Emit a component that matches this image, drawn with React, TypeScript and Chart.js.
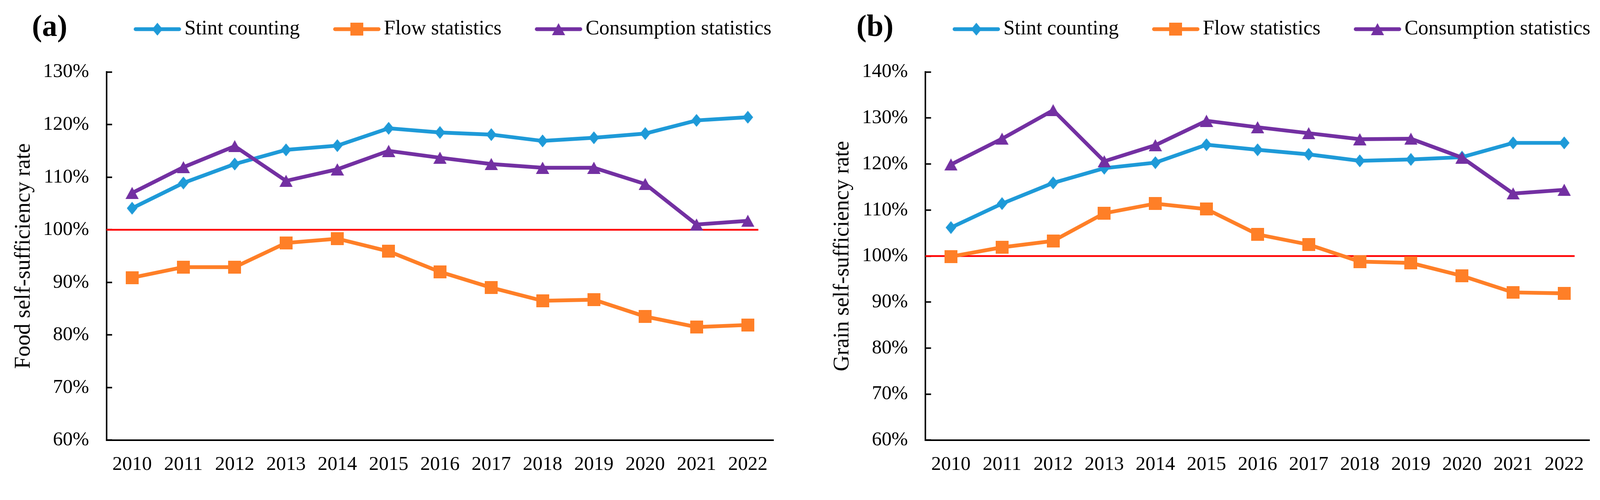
import React, { useEffect, useRef } from 'react';
import { Chart, registerables } from 'chart.js';

Chart.register(...registerables);
Chart.defaults.font.family = '"Liberation Serif", "Times New Roman", serif';

// ---------- data ----------
const years = ['2010', '2011', '2012', '2013', '2014', '2015', '2016', '2017', '2018', '2019', '2020', '2021', '2022'];
const seriesNames = ['Stint counting', 'Flow statistics', 'Consumption statistics'];

const foodStint = [104.1, 108.9, 112.5, 115.2, 116.0, 119.3, 118.5, 118.1, 116.9, 117.5, 118.3, 120.8, 121.4];
const foodFlow = [90.9, 92.9, 92.9, 97.5, 98.3, 95.9, 92.0, 89.0, 86.5, 86.7, 83.5, 81.5, 81.9];
const foodConsumption = [107.0, 111.9, 115.9, 109.3, 111.5, 115.0, 113.7, 112.5, 111.8, 111.8, 108.7, 101.0, 101.7];

const grainStint = [106.2, 111.4, 115.9, 119.1, 120.3, 124.2, 123.1, 122.1, 120.7, 121.0, 121.5, 124.6, 124.6];
const grainFlow = [99.9, 101.9, 103.3, 109.3, 111.4, 110.2, 104.7, 102.5, 98.8, 98.5, 95.7, 92.1, 91.9];
const grainConsumption = [119.9, 125.5, 131.7, 120.6, 124.1, 129.4, 128.0, 126.7, 125.4, 125.5, 121.4, 113.6, 114.4];

const foodYRange = [60, 130];
const grainYRange = [60, 140];
const yStep = 10;
const THRESHOLD = 100;

const COLORS = ['#1E9AD8', '#FF7F27', '#7330A2'];
const SHAPES = ['diamond', 'square', 'triangle'];

// reference frame size (the picture is laid out in these units, then fitted to the window)
const FRAME_W = 4224;
const FRAME_H = 1279;
const PANEL_W = 2112;

const MARKER_SIZES = [[28, 34], [34, 34], [35, 32]];

// ---------- marker images ----------
function makeMarker(shape: string, color: string, size: number[]): HTMLCanvasElement {
  const [w, h] = size;
  const c = document.createElement('canvas');
  c.width = w;
  c.height = h;
  const g = c.getContext('2d')!;
  g.fillStyle = color;
  g.beginPath();
  if (shape === 'diamond') {
    g.moveTo(w / 2, 0); g.lineTo(w, h / 2); g.lineTo(w / 2, h); g.lineTo(0, h / 2);
  } else if (shape === 'square') {
    g.rect(0, 0, w, h);
  } else {
    g.moveTo(w / 2, 0); g.lineTo(w, h); g.lineTo(0, h);
  }
  g.closePath();
  g.fill();
  return c;
}

// ---------- plugins ----------
const thresholdPlugin = {
  id: 'threshold',
  beforeDatasetsDraw(chart: any, _args: any, opts: any) {
    const { ctx, chartArea, scales } = chart;
    const y = scales.y.getPixelForValue(opts.value);
    ctx.save();
    ctx.strokeStyle = opts.color;
    ctx.lineWidth = opts.width;
    ctx.beginPath();
    ctx.moveTo(chartArea.left, y);
    ctx.lineTo(chartArea.right - opts.endInset, y);
    ctx.stroke();
    ctx.restore();
  },
};

const lineLegendPlugin = {
  id: 'lineLegend',
  afterDraw(chart: any, _args: any, opts: any) {
    const { ctx, chartArea } = chart;
    let x = chartArea.left + opts.offsetX;
    const y = opts.y;
    ctx.save();
    ctx.font = `${opts.fontSize}px "Liberation Serif", "Times New Roman", serif`;
    ctx.textBaseline = 'middle';
    ctx.textAlign = 'left';
    chart.data.datasets.forEach((ds: any) => {
      const cap = opts.lineWidth / 2;
      ctx.strokeStyle = ds.borderColor;
      ctx.lineWidth = opts.lineWidth;
      ctx.lineCap = 'round';
      ctx.beginPath();
      ctx.moveTo(x + cap, y);
      ctx.lineTo(x + opts.lineLength - cap, y);
      ctx.stroke();
      const img = ds.pointStyle as HTMLCanvasElement;
      ctx.drawImage(img, x + opts.lineLength / 2 - img.width / 2, y - img.height / 2);
      ctx.fillStyle = '#000';
      const tx = x + opts.lineLength + opts.textGap;
      ctx.fillText(ds.label, tx, y);
      x = tx + ctx.measureText(ds.label).width + opts.itemGap;
    });
    ctx.restore();
  },
};

const panelLabelPlugin = {
  id: 'panelLabel',
  afterDraw(chart: any, _args: any, opts: any) {
    const { ctx } = chart;
    ctx.save();
    ctx.font = `bold ${opts.fontSize}px "Liberation Serif", "Times New Roman", serif`;
    ctx.fillStyle = '#000';
    ctx.textAlign = 'center';
    ctx.textBaseline = 'middle';
    ctx.fillText(opts.text, opts.x, opts.y);
    ctx.restore();
  },
};

// ---------- config ----------
type PanelDef = {
  label: string;
  yTitle: string;
  series: number[][];
  range: number[];
  padLeft: number;
  padRight: number;
  labelX: number;
};

function makeConfig(p: PanelDef, ratio: number): any {
  const markers = SHAPES.map((s, i) => makeMarker(s, COLORS[i], MARKER_SIZES[i]));
  return {
    type: 'line',
    data: {
      labels: years,
      datasets: seriesNames.map((name, i) => ({
        label: name,
        data: p.series[i],
        borderColor: COLORS[i],
        backgroundColor: COLORS[i],
        borderWidth: 10,
        pointStyle: markers[i],
        pointRadius: 17,
        tension: 0,
        order: 2 - i,
      })),
    },
    options: {
      responsive: false,
      animation: false,
      devicePixelRatio: ratio,
      layout: { padding: { left: p.padLeft, right: p.padRight, top: 190, bottom: 18 } },
      plugins: {
        legend: { display: false },
        tooltip: { enabled: false },
        title: { display: false },
        threshold: { value: THRESHOLD, color: '#FF0000', width: 4.5, endInset: 40 },
        lineLegend: { offsetX: 72, y: 77, fontSize: 54, lineWidth: 10, lineLength: 125, textGap: 9, itemGap: 88 },
        panelLabel: { text: p.label, x: p.labelX, y: 74, fontSize: 80 },
      },
      scales: {
        x: {
          type: 'category',
          offset: true,
          grid: { display: false, drawTicks: false },
          border: { display: true, color: '#000', width: 4 },
          ticks: { font: { size: 52 }, color: '#000', padding: 34, maxRotation: 0, autoSkip: false },
          afterFit: (s: any) => { s.height = 100; },
        },
        y: {
          min: p.range[0],
          max: p.range[1],
          grid: { drawOnChartArea: false, drawTicks: true, tickLength: -15, tickColor: '#000', tickWidth: 4, color: '#000' },
          border: { display: true, color: '#000', width: 4 },
          ticks: { stepSize: yStep, font: { size: 52 }, color: '#000', padding: 61, callback: (v: any) => v + '%' },
          title: { display: true, text: p.yTitle, font: { size: 58 }, color: '#000', padding: { top: 28, bottom: 0 } },
          afterFit: (s: any) => { s.width = 281; },
        },
      },
    },
    plugins: [thresholdPlugin, lineLegendPlugin, panelLabelPlugin],
  };
}

const panelA: PanelDef = {
  label: '(a)',
  yTitle: 'Food self-sufficiency rate',
  series: [foodStint, foodFlow, foodConsumption],
  range: foodYRange,
  padLeft: 0,
  padRight: 70,
  labelX: 131,
};

const panelB: PanelDef = {
  label: '(b)',
  yTitle: 'Grain self-sufficiency rate',
  series: [grainStint, grainFlow, grainConsumption],
  range: grainYRange,
  padLeft: 50,
  padRight: 22,
  labelX: 198,
};

function Panel({ def, left, scale }: { def: PanelDef; left: number; scale: number }) {
  const ref = useRef<HTMLCanvasElement>(null);
  useEffect(() => {
    const ratio = scale * (window.devicePixelRatio || 1);
    const chart = new Chart(ref.current!, makeConfig(def, ratio));
    return () => chart.destroy();
  }, [def, scale]);
  return (
    <canvas
      ref={ref}
      width={PANEL_W}
      height={FRAME_H}
      style={{
        position: 'absolute',
        left: left * scale,
        top: 0,
        width: PANEL_W * scale,
        height: FRAME_H * scale,
      }}
    />
  );
}

export default function App() {
  useEffect(() => {
    document.body.style.margin = '0';
    document.body.style.overflow = 'hidden';
  }, []);
  const vw = typeof window !== 'undefined' ? window.innerWidth : FRAME_W;
  const scale = vw > 0 ? vw / FRAME_W : 1;
  return (
    <div
      style={{
        position: 'absolute',
        left: 0,
        top: 0,
        width: FRAME_W * scale,
        height: FRAME_H * scale,
        background: '#fff',
        overflow: 'hidden',
      }}
    >
      <Panel def={panelA} left={0} scale={scale} />
      <Panel def={panelB} left={PANEL_W} scale={scale} />
    </div>
  );
}
